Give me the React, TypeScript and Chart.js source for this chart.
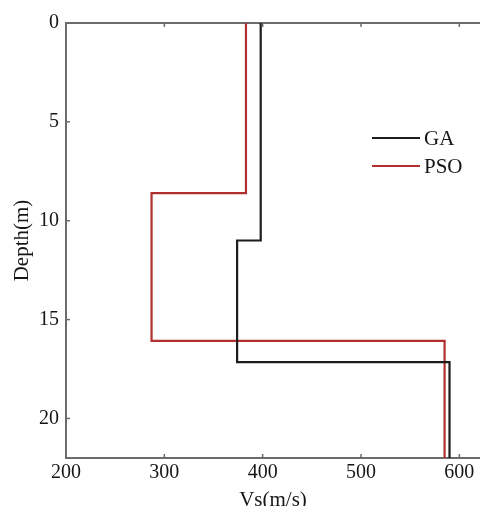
import React, { useEffect, useRef } from "react";
import { Chart, registerables } from "chart.js";
Chart.register(...registerables);

const gaVs = [398, 398, 374, 374, 590, 590];
const gaDepth = [0, 11, 11, 17.15, 17.15, 22];
const psoVs = [383, 383, 287, 287, 585, 585];
const psoDepth = [0, 8.6, 8.6, 16.08, 16.08, 22];
const seriesNames = ["GA", "PSO"];
const seriesColors = ["#1c1c1c", "#b03030"];
const xTicks = [200, 300, 400, 500, 600];
const yTicks = [0, 5, 10, 15, 20];
const xTitle = "Vs(m/s)";
const yTitle = "Depth(m)";

const FONT = "'Liberation Serif', 'DejaVu Serif', serif";
const AXIS_COLOR = "#6b6b6b";
const TEXT_COLOR = "#161616";

const innerTicks = {
  id: "innerTicks",
  afterDatasetsDraw(chart: any) {
    const { ctx, chartArea } = chart;
    const xs = chart.scales.x;
    const ys = chart.scales.y;
    ctx.save();
    ctx.strokeStyle = AXIS_COLOR;
    ctx.lineWidth = 1.5;
    const len = 4;
    xTicks.forEach((v) => {
      if (v === xs.min) return;
      const px = xs.getPixelForValue(v);
      ctx.beginPath();
      ctx.moveTo(px, chartArea.bottom);
      ctx.lineTo(px, chartArea.bottom - len);
      ctx.moveTo(px, chartArea.top);
      ctx.lineTo(px, chartArea.top + len);
      ctx.stroke();
    });
    yTicks.forEach((v) => {
      if (v === ys.min) return;
      const py = ys.getPixelForValue(v);
      ctx.beginPath();
      ctx.moveTo(chartArea.left, py);
      ctx.lineTo(chartArea.left + len, py);
      ctx.stroke();
    });
    ctx.restore();
  },
};

const customLegend = {
  id: "customLegend",
  afterDraw(chart: any, _args: any, opts: any) {
    const { ctx } = chart;
    ctx.save();
    ctx.font = `21px ${FONT}`;
    ctx.textBaseline = "middle";
    ctx.textAlign = "left";
    chart.data.datasets.forEach((ds: any, i: number) => {
      const y = opts.y + i * opts.gap;
      ctx.strokeStyle = ds.borderColor;
      ctx.lineWidth = 2;
      ctx.beginPath();
      ctx.moveTo(opts.x, y);
      ctx.lineTo(opts.x + opts.lineLen, y);
      ctx.stroke();
      ctx.fillStyle = TEXT_COLOR;
      ctx.fillText(ds.label, opts.x + opts.lineLen + 4, y + 1);
    });
    ctx.restore();
  },
};

export default function App() {
  const ref = useRef<HTMLCanvasElement | null>(null);
  useEffect(() => {
    if (!ref.current) return;
    const toPts = (xs: number[], ys: number[]) => xs.map((x, i) => ({ x, y: ys[i] }));
    const chart = new Chart(ref.current, {
      type: "scatter",
      data: {
        datasets: [
          {
            label: seriesNames[0],
            data: toPts(gaVs, gaDepth),
            showLine: true,
            borderColor: seriesColors[0],
            backgroundColor: seriesColors[0],
            borderWidth: 2.2,
            pointRadius: 0,
            tension: 0,
          },
          {
            label: seriesNames[1],
            data: toPts(psoVs, psoDepth),
            showLine: true,
            borderColor: seriesColors[1],
            backgroundColor: seriesColors[1],
            borderWidth: 2.2,
            pointRadius: 0,
            tension: 0,
          },
        ],
      },
      options: {
        responsive: false,
        animation: false,
        devicePixelRatio: 1,
        layout: { padding: 0 },
        plugins: {
          legend: { display: false },
          tooltip: { enabled: false },
          customLegend: { x: 372, y: 138, gap: 28, lineLen: 48 },
        } as any,
        scales: {
          x: {
            type: "linear",
            position: "bottom",
            min: 200,
            max: 621,
            afterBuildTicks: (s: any) => {
              s.ticks = xTicks.map((v) => ({ value: v }));
            },
            afterFit: (s: any) => {
              s.height = 48;
            },
            grid: { display: false, drawTicks: false },
            border: { display: true, color: AXIS_COLOR, width: 2 },
            ticks: {
              font: { family: FONT, size: 20 },
              color: TEXT_COLOR,
              padding: 3,
              maxRotation: 0,
            },
            title: {
              display: true,
              text: xTitle,
              font: { family: FONT, size: 21 },
              color: TEXT_COLOR,
              padding: { top: 0, bottom: -7 },
            },
          },
          x2: {
            type: "linear",
            position: "top",
            min: 200,
            max: 621,
            afterFit: (s: any) => {
              s.height = 23;
            },
            grid: { display: false, drawTicks: false },
            border: { display: true, color: AXIS_COLOR, width: 2 },
            ticks: { display: false },
          },
          y: {
            type: "linear",
            position: "left",
            reverse: true,
            min: 0,
            max: 22,
            afterBuildTicks: (s: any) => {
              s.ticks = yTicks.map((v) => ({ value: v }));
            },
            afterFit: (s: any) => {
              s.width = 66;
            },
            grid: { display: false, drawTicks: false },
            border: { display: true, color: AXIS_COLOR, width: 2 },
            ticks: {
              font: { family: FONT, size: 20 },
              color: TEXT_COLOR,
              padding: 7,
            },
            title: {
              display: true,
              text: yTitle,
              font: { family: FONT, size: 21 },
              color: TEXT_COLOR,
              padding: { top: 10, bottom: 0 },
            },
          },
        },
      } as any,
      plugins: [innerTicks, customLegend],
    });
    return () => chart.destroy();
  }, []);
  return (
    <div style={{ position: "fixed", left: 0, top: 0, width: 480, height: 506, background: "#fff" }}>
      <canvas ref={ref} width={480} height={506} style={{ display: "block" }} />
    </div>
  );
}
